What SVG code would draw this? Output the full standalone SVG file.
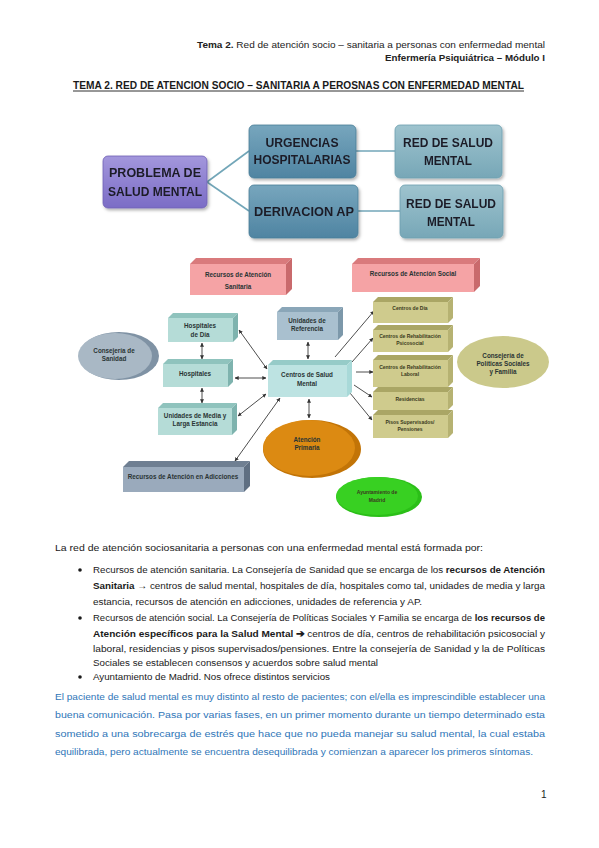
<svg xmlns="http://www.w3.org/2000/svg" width="599" height="848" viewBox="0 0 599 848">
<defs>
<style>
text{font-family:"Liberation Sans",Arial,sans-serif;}
.hdr{font-size:9.8px;fill:#222;}
.b{font-weight:bold;}
.top{font-size:12.5px;font-weight:bold;fill:#1c1c28;text-anchor:middle;}
.sm{font-size:6.3px;font-weight:bold;fill:#2a3434;text-anchor:middle;}
.xs{font-size:5px;font-weight:bold;fill:#3a3a20;text-anchor:middle;}
.body{font-size:9.6px;fill:#1a1a1a;}
.blue{font-size:9.6px;fill:#2f76b8;}
.tl{stroke:#72a6b8;stroke-width:1.6;fill:none;}
.ar{stroke:#3a3a3a;stroke-width:0.9;fill:none;}
</style>
<linearGradient id="gPur" x1="0" y1="0" x2="0" y2="1"><stop offset="0" stop-color="#a397dc"/><stop offset="1" stop-color="#7b6cc6"/></linearGradient>
<linearGradient id="gBlu" x1="0" y1="0" x2="0" y2="1"><stop offset="0" stop-color="#77a6bd"/><stop offset="1" stop-color="#4f84a2"/></linearGradient>
<linearGradient id="gLt" x1="0" y1="0" x2="0" y2="1"><stop offset="0" stop-color="#9ec3ce"/><stop offset="1" stop-color="#77a7b7"/></linearGradient>
<filter id="sh" x="-10%" y="-10%" width="130%" height="140%"><feDropShadow dx="1.5" dy="2" stdDeviation="1.5" flood-color="#000" flood-opacity="0.3"/></filter>
<marker id="ah" viewBox="0 0 6 6" refX="5.5" refY="3" markerUnits="userSpaceOnUse" markerWidth="4" markerHeight="4" orient="auto-start-reverse"><path d="M0,0 L6,3 L0,6 z" fill="#333"/></marker>
</defs>
<rect width="599" height="848" fill="#fff"/>

<!-- header -->
<text class="hdr" x="545" y="48" text-anchor="end" textLength="348" lengthAdjust="spacingAndGlyphs"><tspan class="b">Tema 2.</tspan> Red de atención socio – sanitaria a personas con enfermedad mental</text>
<text class="hdr b" x="545" y="61" text-anchor="end" textLength="160" lengthAdjust="spacingAndGlyphs">Enfermería Psiquiátrica – Módulo I</text>
<text x="73" y="89" font-size="10.5" font-weight="bold" fill="#1a1a1a" textLength="451" lengthAdjust="spacingAndGlyphs">TEMA 2. RED DE ATENCION SOCIO – SANITARIA A PEROSNAS CON ENFERMEDAD MENTAL</text>
<line x1="73" y1="91" x2="524" y2="91" stroke="#1a1a1a" stroke-width="0.9"/>

<!-- top diagram connectors -->
<g id="top-connectors">
<path class="tl" d="M207,182 L249,151"/>
<path class="tl" d="M207,182 L249,211"/>
<path class="tl" d="M356,151 L395,151"/>
<path class="tl" d="M358,211 L400,211"/>
</g>
<g id="n-problema" filter="url(#sh)">
<rect x="103" y="156" width="104" height="52" rx="5" fill="url(#gPur)" stroke="#6e60b4" stroke-width="0.8"/>
<text class="top" x="155" y="177" textLength="92" lengthAdjust="spacingAndGlyphs">PROBLEMA DE</text>
<text class="top" x="155" y="196" textLength="94" lengthAdjust="spacingAndGlyphs">SALUD MENTAL</text>
</g>
<g id="n-urgencias" filter="url(#sh)">
<rect x="249" y="125" width="107" height="53" rx="5" fill="url(#gBlu)" stroke="#4a7d98" stroke-width="0.8"/>
<text class="top" x="302" y="147" textLength="73" lengthAdjust="spacingAndGlyphs">URGENCIAS</text>
<text class="top" x="302" y="164" textLength="97" lengthAdjust="spacingAndGlyphs">HOSPITALARIAS</text>
</g>
<g id="n-derivacion" filter="url(#sh)">
<rect x="249" y="185" width="109" height="53" rx="5" fill="url(#gBlu)" stroke="#4a7d98" stroke-width="0.8"/>
<text class="top" x="304" y="216" textLength="100" lengthAdjust="spacingAndGlyphs">DERIVACION AP</text>
</g>
<g id="n-red1" filter="url(#sh)">
<rect x="395" y="125" width="107" height="53" rx="5" fill="url(#gLt)" stroke="#6d9fb0" stroke-width="0.8"/>
<text class="top" x="448" y="147" textLength="90" lengthAdjust="spacingAndGlyphs">RED DE SALUD</text>
<text class="top" x="448" y="165" textLength="48" lengthAdjust="spacingAndGlyphs">MENTAL</text>
</g>
<g id="n-red2" filter="url(#sh)">
<rect x="400" y="185" width="103" height="53" rx="5" fill="url(#gLt)" stroke="#6d9fb0" stroke-width="0.8"/>
<text class="top" x="451" y="208" textLength="90" lengthAdjust="spacingAndGlyphs">RED DE SALUD</text>
<text class="top" x="451" y="226" textLength="48" lengthAdjust="spacingAndGlyphs">MENTAL</text>
</g>

<!-- bottom diagram connectors -->
<g id="connectors">
<path class="ar" d="M202,343 L202,359" marker-start="url(#ah)" marker-end="url(#ah)"/>
<path class="ar" d="M202,388 L202,403" marker-start="url(#ah)" marker-end="url(#ah)"/>
<path class="ar" d="M239,330 L267,369" marker-start="url(#ah)" marker-end="url(#ah)"/>
<path class="ar" d="M235,378 L266,378" marker-start="url(#ah)" marker-end="url(#ah)"/>
<path class="ar" d="M238,416 L266,394" marker-start="url(#ah)" marker-end="url(#ah)"/>
<path class="ar" d="M235,461 L280,398" marker-start="url(#ah)" marker-end="url(#ah)"/>
<path class="ar" d="M308,342 L308,359" marker-start="url(#ah)" marker-end="url(#ah)"/>
<path class="ar" d="M309,399 L309,418" marker-start="url(#ah)" marker-end="url(#ah)"/>
<path class="ar" d="M335,357 L374,311" marker-end="url(#ah)"/>
<path class="ar" d="M352,362 L373,338" marker-end="url(#ah)"/>
<path class="ar" d="M356,372 L373,372" marker-end="url(#ah)"/>
<path class="ar" d="M354,385 L372,397" marker-end="url(#ah)"/>
<path class="ar" d="M350,393 L372,420" marker-end="url(#ah)"/>
</g>

<g id="n-rec-sanitaria">
<polygon points="190,264 196,258 292,258 286,264" fill="#d97a7c"/>
<polygon points="286,264 292,258 292,289 286,295" fill="#c96a6c"/>
<rect x="190" y="264" width="96" height="31" fill="#f5a3a5"/>
<text class="sm" x="238" y="277" fill="#4a2222">Recursos de Atención</text>
<text class="sm" x="238" y="289" fill="#4a2222">Sanitaria</text>
</g>
<g id="n-rec-social">
<polygon points="352,264 358,258 480,258 474,264" fill="#d97a7c"/>
<polygon points="474,264 480,258 480,286 474,292" fill="#c96a6c"/>
<rect x="352" y="264" width="122" height="28" fill="#f5a3a5"/>
<text class="sm" x="413" y="276" fill="#4a2222">Recursos de Atención Social</text>
</g>
<g id="n-consejeria-sanidad">
<ellipse cx="119" cy="356" rx="40" ry="24" fill="#7f92a4"/>
<ellipse cx="115" cy="356" rx="37" ry="23" fill="#a9b8c5"/>
<text class="sm" x="114" y="353">Consejería de</text>
<text class="sm" x="114" y="361">Sanidad</text>
</g>
<g id="n-hosp-dia">
<polygon points="168,318 173,313 238,313 233,318" fill="#8fc3bd"/>
<polygon points="233,318 238,313 238,337 233,342" fill="#7eb3ae"/>
<rect x="168" y="318" width="65" height="24" fill="#b5dcd7"/>
<text class="sm" x="200" y="328">Hospitales</text>
<text class="sm" x="200" y="337">de Día</text>
</g>
<g id="n-hospitales">
<polygon points="163,364 168,359 233,359 228,364" fill="#8fc3bd"/>
<polygon points="228,364 233,359 233,382 228,387" fill="#7eb3ae"/>
<rect x="163" y="364" width="65" height="23" fill="#b5dcd7"/>
<text class="sm" x="195" y="376">Hospitales</text>
</g>
<g id="n-unid-media">
<polygon points="158,408 163,403 237,403 232,408" fill="#8fc3bd"/>
<polygon points="232,408 237,403 237,430 232,435" fill="#7eb3ae"/>
<rect x="158" y="408" width="74" height="27" fill="#b5dcd7"/>
<text class="sm" x="195" y="418">Unidades de Media y</text>
<text class="sm" x="195" y="426">Larga Estancia</text>
</g>
<g id="n-unid-ref">
<polygon points="277,312 282,307 343,307 338,312" fill="#8aa6b8"/>
<polygon points="338,312 343,307 343,335 338,340" fill="#7c98aa"/>
<rect x="277" y="312" width="61" height="28" fill="#a9c0cf"/>
<text class="sm" x="307" y="323">Unidades de</text>
<text class="sm" x="307" y="331">Referencia</text>
</g>
<g id="n-centros-salud">
<polygon points="268,365 273,360 352,360 347,365" fill="#96cbc8"/>
<polygon points="347,365 352,360 352,392 347,397" fill="#a8d9d8"/>
<rect x="268" y="365" width="79" height="32" fill="#bde3e2"/>
<text class="sm" x="307" y="377" font-size="7">Centros de Salud</text>
<text class="sm" x="307" y="386" font-size="7">Mental</text>
</g>
<g id="n-adicciones">
<polygon points="123,467 129,461 250,461 244,467" fill="#6f7f92"/>
<polygon points="244,467 250,461 250,486 244,492" fill="#5f6f82"/>
<rect x="123" y="467" width="121" height="25" fill="#9aaabc"/>
<text class="sm" x="183" y="479" font-size="6.8" fill="#1f2a3a">Recursos de Atención  en Adicciones</text>
</g>
<g id="n-atencion-primaria">
<ellipse cx="312" cy="449" rx="49" ry="29" fill="#c27407"/>
<ellipse cx="309" cy="448" rx="46" ry="28" fill="#dc8a12"/>
<text class="sm" x="307" y="442" fill="#4a2a05">Atención</text>
<text class="sm" x="307" y="450" fill="#4a2a05">Primaria</text>
</g>
<g id="n-ayuntamiento">
<ellipse cx="379" cy="497" rx="43" ry="20" fill="#2bbf18"/>
<ellipse cx="377" cy="496" rx="41" ry="19" fill="#38d022"/>
<text class="xs" x="377" y="494" fill="#2a4a12">Ayuntamiento de</text>
<text class="xs" x="377" y="502" fill="#2a4a12">Madrid</text>
</g>
<g id="n-centros-dia">
<polygon points="373,302 378,297 453,297 448,302" fill="#aaa665"/>
<polygon points="448,302 453,297 453,318 448,323" fill="#b6b272"/>
<rect x="373" y="302" width="75" height="21" fill="#cfcb8d"/>
<text class="xs" x="410" y="310">Centros de Día</text>
</g>
<g id="n-rehab-psico">
<polygon points="373,330 378,325 453,325 448,330" fill="#aaa665"/>
<polygon points="448,330 453,325 453,347 448,352" fill="#b6b272"/>
<rect x="373" y="330" width="75" height="22" fill="#cfcb8d"/>
<text class="xs" x="410" y="338">Centros de Rehabilitación</text>
<text class="xs" x="410" y="345">Psicosocial</text>
</g>
<g id="n-rehab-laboral">
<polygon points="373,360 378,355 453,355 448,360" fill="#aaa665"/>
<polygon points="448,360 453,355 453,382 448,387" fill="#b6b272"/>
<rect x="373" y="360" width="75" height="27" fill="#cfcb8d"/>
<text class="xs" x="410" y="369">Centros de Rehabilitación</text>
<text class="xs" x="410" y="376">Laboral</text>
</g>
<g id="n-residencias">
<polygon points="373,392 378,387 453,387 448,392" fill="#aaa665"/>
<polygon points="448,392 453,387 453,405 448,410" fill="#b6b272"/>
<rect x="373" y="392" width="75" height="18" fill="#cfcb8d"/>
<text class="xs" x="410" y="401">Residencias</text>
</g>
<g id="n-pisos">
<polygon points="373,415 378,410 453,410 448,415" fill="#aaa665"/>
<polygon points="448,415 453,410 453,433 448,438" fill="#b6b272"/>
<rect x="373" y="415" width="75" height="23" fill="#cfcb8d"/>
<text class="xs" x="410" y="424">Pisos Supervisados/</text>
<text class="xs" x="410" y="431">Pensiones</text>
</g>
<g id="n-consejeria-politicas">
<ellipse cx="503" cy="362" rx="46" ry="26" fill="#cbc98b"/>
<text class="sm" x="503" y="358" fill="#3a3a18">Consejería de</text>
<text class="sm" x="503" y="366" fill="#3a3a18">Políticas Sociales</text>
<text class="sm" x="503" y="374" fill="#3a3a18">y Familia</text>
</g>

<!-- body text -->
<text class="body" x="55" y="551" textLength="428" lengthAdjust="spacingAndGlyphs">La red de atención sociosanitaria a personas con una enfermedad mental está formada por:</text>
<circle cx="80" cy="570" r="1.8" fill="#1a1a1a"/>
<text class="body" x="93" y="573" textLength="452" lengthAdjust="spacingAndGlyphs">Recursos de atención sanitaria. La Consejería de Sanidad que se encarga de los <tspan class="b">recursos de Atención</tspan></text>
<text class="body" x="93" y="589" textLength="452" lengthAdjust="spacingAndGlyphs"><tspan class="b">Sanitaria</tspan> → centros de salud mental, hospitales de día, hospitales como tal, unidades de media y larga</text>
<text class="body" x="93" y="605" textLength="329" lengthAdjust="spacingAndGlyphs">estancia, recursos de atención en adicciones, unidades de referencia y AP.</text>
<circle cx="80" cy="618" r="1.8" fill="#1a1a1a"/>
<text class="body" x="93" y="621" textLength="452" lengthAdjust="spacingAndGlyphs">Recursos de atención social. La Consejería de Políticas Sociales Y Familia se encarga de <tspan class="b">los recursos de</tspan></text>
<text class="body" x="93" y="637" textLength="452" lengthAdjust="spacingAndGlyphs"><tspan class="b">Atención específicos para la Salud Mental ➔</tspan> centros de día, centros de rehabilitación psicosocial y</text>
<text class="body" x="93" y="652" textLength="452" lengthAdjust="spacingAndGlyphs">laboral, residencias y pisos supervisados/pensiones. Entre la consejería de Sanidad y la de Políticas</text>
<text class="body" x="93" y="666" textLength="285" lengthAdjust="spacingAndGlyphs">Sociales se establecen consensos y acuerdos sobre salud mental</text>
<circle cx="80" cy="677" r="1.8" fill="#1a1a1a"/>
<text class="body" x="93" y="680" textLength="237" lengthAdjust="spacingAndGlyphs">Ayuntamiento de Madrid. Nos ofrece distintos servicios</text>

<text class="blue" x="55" y="700" textLength="490" lengthAdjust="spacingAndGlyphs">El paciente de salud mental es muy distinto al resto de pacientes; con el/ella es imprescindible establecer una</text>
<text class="blue" x="55" y="718" textLength="490" lengthAdjust="spacingAndGlyphs">buena comunicación. Pasa por varias fases, en un primer momento durante un tiempo determinado esta</text>
<text class="blue" x="55" y="737" textLength="490" lengthAdjust="spacingAndGlyphs">sometido a una sobrecarga de estrés que hace que no pueda manejar su salud mental, la cual estaba</text>
<text class="blue" x="55" y="755" textLength="478" lengthAdjust="spacingAndGlyphs">equilibrada, pero actualmente se encuentra desequilibrada y comienzan a aparecer los primeros síntomas.</text>

<text x="541" y="798" font-size="10" fill="#222">1</text>
</svg>
